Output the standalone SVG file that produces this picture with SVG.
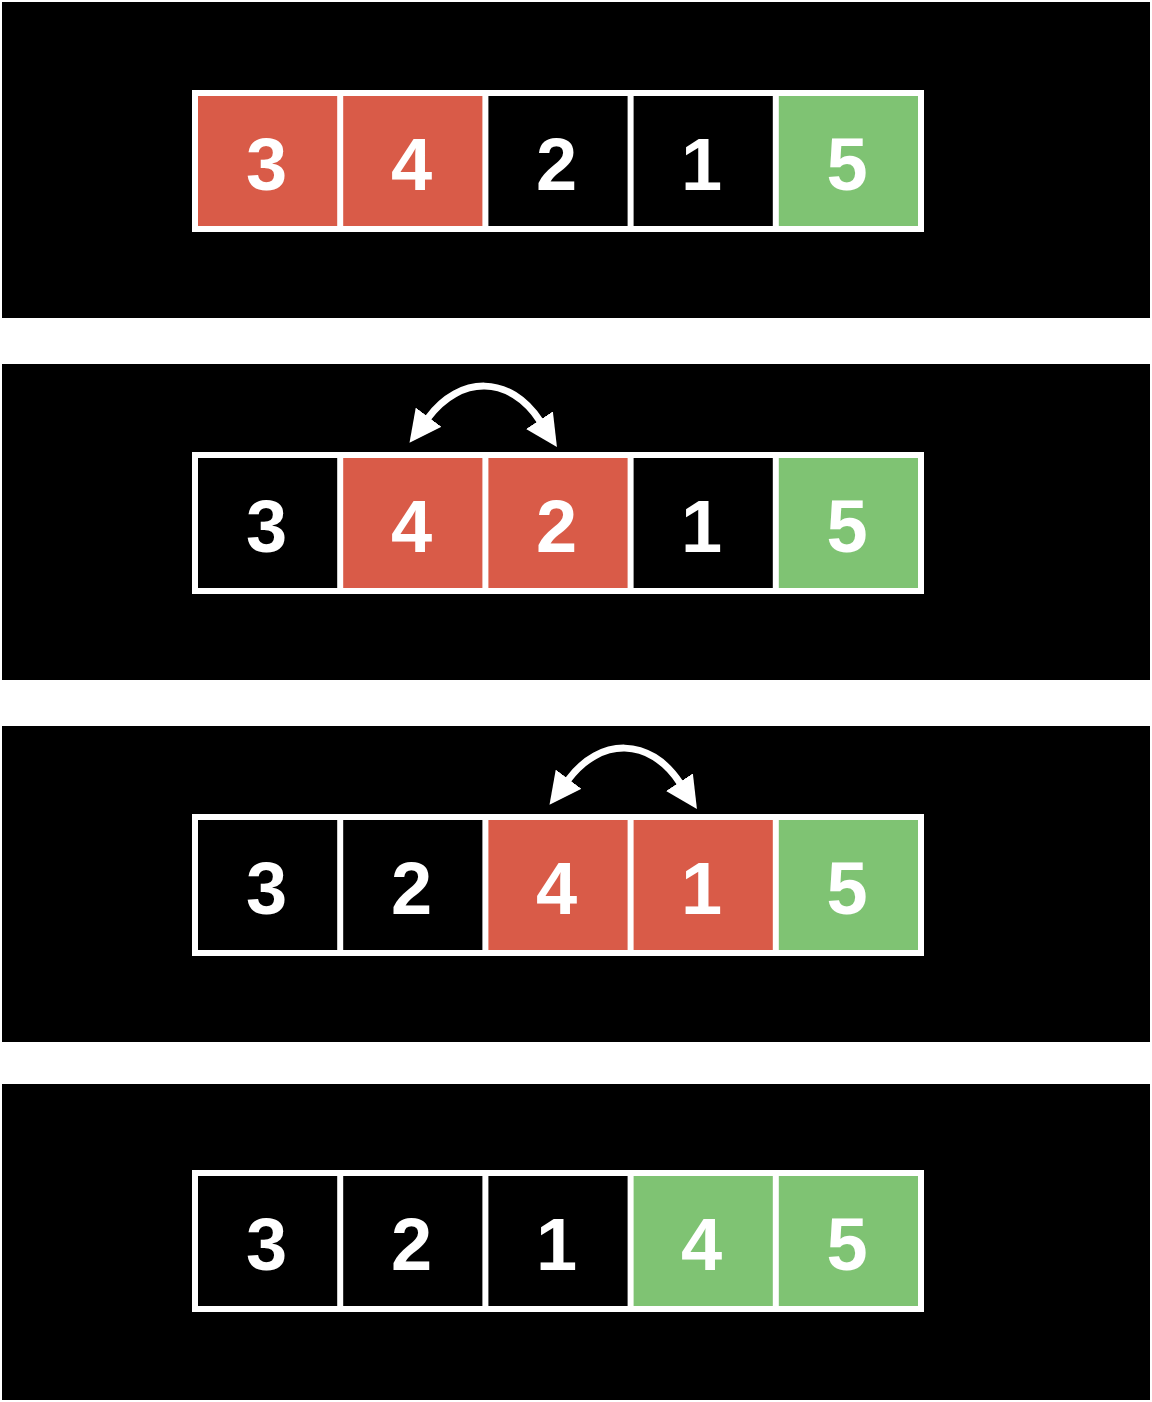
<svg xmlns="http://www.w3.org/2000/svg" width="1152" height="1402" viewBox="0 0 1152 1402">
<style>
.panel{fill:#000}
.frame{fill:#fff}
.r{fill:#d95b48}
.g{fill:#7fc373}
.k{fill:#000}
.t{fill:#fff;font-family:"Liberation Sans",Arial,sans-serif;font-weight:bold;font-size:74px;text-anchor:middle}
.arc{fill:none;stroke:#fff;stroke-width:7}
</style>
<defs>
<marker id="ah" markerUnits="userSpaceOnUse" viewBox="0 -16 32 32" markerWidth="32" markerHeight="32" refX="1" refY="0" orient="auto-start-reverse">
<path d="M0,-16 L32,0 L0,16 Z" fill="#fff"/>
</marker>
</defs>
<rect width="1152" height="1402" fill="#fff"/>
<g id="panel1">
<rect class="panel" x="2" y="2" width="1148" height="316"/>
<rect class="frame" x="192" y="90" width="732" height="142"/>
<g id="p1c1"><rect class="r" x="198" y="96" width="139.2" height="130"/><text class="t" x="266.5" y="190">3</text></g>
<g id="p1c2"><rect class="r" x="343.2" y="96" width="139.2" height="130"/><text class="t" x="411.5" y="190">4</text></g>
<g id="p1c3"><rect class="k" x="488.4" y="96" width="139.2" height="130"/><text class="t" x="556.5" y="190">2</text></g>
<g id="p1c4"><rect class="k" x="633.6" y="96" width="139.2" height="130"/><text class="t" x="701.5" y="190">1</text></g>
<g id="p1c5"><rect class="g" x="778.8" y="96" width="139.2" height="130"/><text class="t" x="847" y="190">5</text></g>
</g>
<g id="panel2">
<rect class="panel" x="2" y="364" width="1148" height="316"/>
<rect class="frame" x="192" y="452" width="732" height="142"/>
<g id="p2c1"><rect class="k" x="198" y="458" width="139.2" height="130"/><text class="t" x="266.5" y="552">3</text></g>
<g id="p2c2"><rect class="r" x="343.2" y="458" width="139.2" height="130"/><text class="t" x="411.5" y="552">4</text></g>
<g id="p2c3"><rect class="r" x="488.4" y="458" width="139.2" height="130"/><text class="t" x="556.5" y="552">2</text></g>
<g id="p2c4"><rect class="k" x="633.6" y="458" width="139.2" height="130"/><text class="t" x="701.5" y="552">1</text></g>
<g id="p2c5"><rect class="g" x="778.8" y="458" width="139.2" height="130"/><text class="t" x="847" y="552">5</text></g>
</g>
<g id="panel3">
<rect class="panel" x="2" y="726" width="1148" height="316"/>
<rect class="frame" x="192" y="814" width="732" height="142"/>
<g id="p3c1"><rect class="k" x="198" y="820" width="139.2" height="130"/><text class="t" x="266.5" y="914">3</text></g>
<g id="p3c2"><rect class="k" x="343.2" y="820" width="139.2" height="130"/><text class="t" x="411.5" y="914">2</text></g>
<g id="p3c3"><rect class="r" x="488.4" y="820" width="139.2" height="130"/><text class="t" x="556.5" y="914">4</text></g>
<g id="p3c4"><rect class="r" x="633.6" y="820" width="139.2" height="130"/><text class="t" x="701.5" y="914">1</text></g>
<g id="p3c5"><rect class="g" x="778.8" y="820" width="139.2" height="130"/><text class="t" x="847" y="914">5</text></g>
</g>
<g id="panel4">
<rect class="panel" x="2" y="1084" width="1148" height="316"/>
<rect class="frame" x="192" y="1170" width="732" height="142"/>
<g id="p4c1"><rect class="k" x="198" y="1176" width="139.2" height="130"/><text class="t" x="266.5" y="1270">3</text></g>
<g id="p4c2"><rect class="k" x="343.2" y="1176" width="139.2" height="130"/><text class="t" x="411.5" y="1270">2</text></g>
<g id="p4c3"><rect class="k" x="488.4" y="1176" width="139.2" height="130"/><text class="t" x="556.5" y="1270">1</text></g>
<g id="p4c4"><rect class="g" x="633.6" y="1176" width="139.2" height="130"/><text class="t" x="701.5" y="1270">4</text></g>
<g id="p4c5"><rect class="g" x="778.8" y="1176" width="139.2" height="130"/><text class="t" x="847" y="1270">5</text></g>
</g>
<g id="connectors">
<path class="arc" d="M428,418 C460,375 510,375 540,421" marker-start="url(#ah)" marker-end="url(#ah)"/>
<path class="arc" d="M568,780 C600,737 650,737 680,783" marker-start="url(#ah)" marker-end="url(#ah)"/>
</g>
</svg>
